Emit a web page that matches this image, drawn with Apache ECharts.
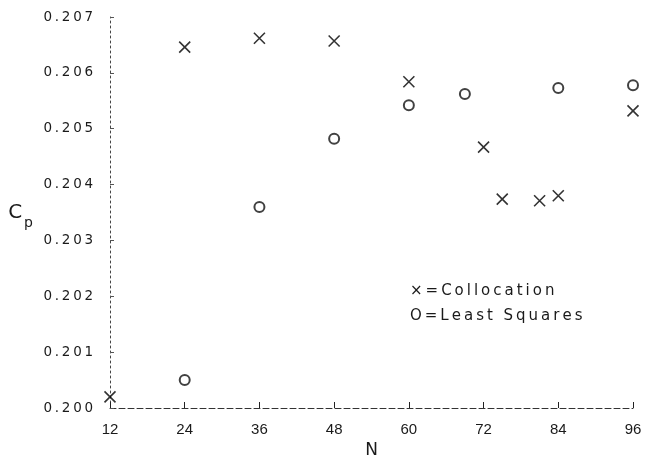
<!DOCTYPE html>
<html>
<head>
<meta charset="utf-8">
<script src="https://cdn.jsdelivr.net/npm/echarts@6/dist/echarts.min.js"></script>
<style>
  html, body { margin: 0; padding: 0; background: #fff; }
  #chart { width: 646px; height: 466px; }
</style>
</head>
<body>
<div id="chart"></div>
<script>
// Pressure coefficient Cp versus number of points N, two solution methods
const collocationN  = [12, 24, 36, 48, 60, 72, 75, 81, 84, 96];
const collocationCp = [0.20020, 0.20646, 0.20662, 0.20657, 0.20584, 0.20467, 0.20374, 0.20371, 0.20380, 0.20532];

const leastSquaresN  = [24, 36, 48, 60, 69, 84, 96];
const leastSquaresCp = [0.20050, 0.20360, 0.20482, 0.20542, 0.20562, 0.20573, 0.20578];

const xTicks = [12, 24, 36, 48, 60, 72, 84, 96];
const yTicks = [0.200, 0.201, 0.202, 0.203, 0.204, 0.205, 0.206, 0.207];

const legendLines = ['\u00d7=Collocation', 'O=Least Squares'];

const pair = (xs, ys) => xs.map((x, i) => [x, ys[i]]);
// widen plotter-style lettering by putting a small space between characters
const spaced = (s, sp) => s.split('').join(sp);

const FONT = '"DejaVu Sans", sans-serif';
const INK = '#1a1a1a';

const chart = echarts.init(document.getElementById('chart'));
chart.setOption({
  animation: false,
  backgroundColor: '#fff',
  grid: { left: 110, right: 13, top: 17, bottom: 58 },
  xAxis: {
    type: 'value',
    min: xTicks[0],
    max: xTicks[xTicks.length - 1],
    interval: 12,
    name: 'N',
    nameLocation: 'middle',
    nameGap: 32,
    nameTextStyle: { fontFamily: FONT, fontSize: 17, color: INK },
    axisLine: { lineStyle: { color: '#333', width: 1, type: [6, 3] } },
    axisTick: { inside: true, length: 6, lineStyle: { color: '#222' } },
    axisLabel: { margin: 14, fontFamily: '"Liberation Sans", sans-serif', fontSize: 15, color: INK },
    splitLine: { show: false }
  },
  yAxis: {
    type: 'value',
    min: yTicks[0],
    max: yTicks[yTicks.length - 1],
    interval: 0.001,
    name: '{c|C}{p|p}',
    nameLocation: 'middle',
    nameRotate: 0,
    nameGap: 77,
    nameTextStyle: {
      rich: {
        c: { fontFamily: FONT, fontSize: 20, color: INK },
        p: { fontFamily: FONT, fontSize: 14, color: INK, padding: [22, 0, 0, 2] }
      }
    },
    axisLine: { show: true, lineStyle: { color: '#444', width: 1, type: [2, 3] } },
    axisTick: { inside: true, length: 4, lineStyle: { color: '#555' } },
    axisLabel: {
      margin: 17,
      fontFamily: FONT,
      fontSize: 13.5,
      color: INK,
      formatter: v => spaced(v.toFixed(3), '\u2009')
    },
    splitLine: { show: false }
  },
  series: [
    {
      name: 'Collocation',
      type: 'scatter',
      data: pair(collocationN, collocationCp),
      symbol: 'path://M0,0L10,10M10,0L0,10',
      symbolSize: 11,
      itemStyle: { color: 'rgba(0,0,0,0)', borderColor: '#000', borderWidth: 1.6 }
    },
    {
      name: 'Least Squares',
      type: 'scatter',
      data: pair(leastSquaresN, leastSquaresCp),
      symbol: 'emptyCircle',
      symbolSize: 10,
      itemStyle: { color: '#111', borderColor: '#111', borderWidth: 1.3 }
    }
  ],
  graphic: legendLines.map((t, i) => ({
    type: 'text',
    left: 410,
    top: 284 + i * 25,
    style: { text: spaced(t, '\u2009'), fontFamily: FONT, fontSize: 15, fill: INK }
  }))
});
</script>
</body>
</html>
